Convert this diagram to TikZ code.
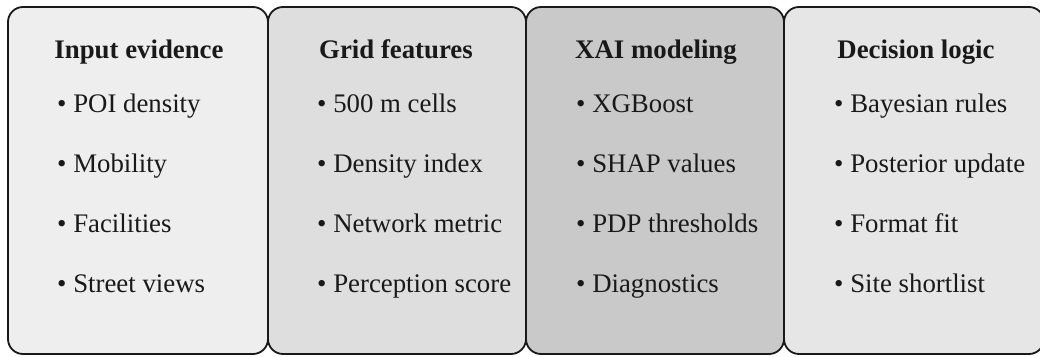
\documentclass[tikz,border=0pt]{standalone}
\usepackage{fontspec}
\setmainfont{Liberation Serif}
\begin{document}
\begin{tikzpicture}[x=1pt,y=-1pt,
  panel/.style={draw=black!90, line width=1.8pt, rounded corners=15pt},
  ptitle/.style={anchor=base, font=\fontsize{26.8}{30}\selectfont\bfseries, text=black!90, inner sep=0pt},
  pitem/.style={anchor=base west, font=\fontsize{26.8}{30}\selectfont, text=black!90, inner sep=0pt}]
\useasboundingbox (0,0) rectangle (1040,356);
\clip (0,0) rectangle (1040,356);
\definecolor{pa}{HTML}{EEEEEE}
\definecolor{pb}{HTML}{DEDEDE}
\definecolor{pc}{HTML}{C9C9C9}
\definecolor{pd}{HTML}{E6E6E6}
\draw[panel, fill=pa] (8,7) rectangle (268,354);
\draw[panel, fill=pb] (268,7) rectangle (526,354);
\draw[panel, fill=pc] (526,7) rectangle (784,354);
\draw[panel, fill=pd] (784,7) rectangle (1044,354);

\node[ptitle] (t1) at (139,58) {Input evidence};
\node[ptitle] (t2) at (396,58) {Grid features};
\node[ptitle] (t3) at (656,58) {XAI modeling};
\node[ptitle] (t4) at (916,58) {Decision logic};

\node[pitem] (a1) at (57,112) {• POI density};
\node[pitem] (a2) at (57,172) {• Mobility};
\node[pitem] (a3) at (57,232) {• Facilities};
\node[pitem] (a4) at (57,292) {• Street views};

\node[pitem] (b1) at (317,112) {• 500 m cells};
\node[pitem] (b2) at (317,172) {• Density index};
\node[pitem] (b3) at (317,232) {• Network metric};
\node[pitem] (b4) at (317,292) {• Perception score};

\node[pitem] (c1) at (576,112) {• XGBoost};
\node[pitem] (c2) at (576,172) {• SHAP values};
\node[pitem] (c3) at (576,232) {• PDP thresholds};
\node[pitem] (c4) at (576,292) {• Diagnostics};

\node[pitem] (d1) at (834,112) {• Bayesian rules};
\node[pitem] (d2) at (834,172) {• Posterior update};
\node[pitem] (d3) at (834,232) {• Format fit};
\node[pitem] (d4) at (834,292) {• Site shortlist};
\end{tikzpicture}
\end{document}
